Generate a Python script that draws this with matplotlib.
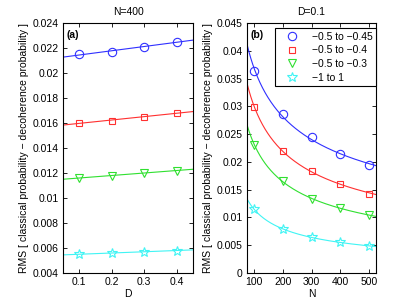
import numpy as np
import matplotlib
matplotlib.use("Agg")
import matplotlib.pyplot as plt

plt.rcParams['font.family'] = ['Liberation Sans', 'DejaVu Sans']
plt.rcParams['font.size'] = 7.5

D = [0.1, 0.2, 0.3, 0.4]
N = [100, 200, 300, 400, 500]
labels = ['\u22120.5 to \u22120.45', '\u22120.5 to \u22120.4', '\u22120.5 to \u22120.3', '\u22121 to 1']
rms_vs_D = [
    [0.0215, 0.0217, 0.0221, 0.0225],
    [0.0160, 0.0162, 0.0165, 0.0168],
    [0.0116, 0.0118, 0.0120, 0.0122],
    [0.0055, 0.0056, 0.0057, 0.0058],
]
rms_vs_N = [
    [0.0363, 0.0286, 0.0244, 0.0214, 0.0194],
    [0.0298, 0.0220, 0.0184, 0.0160, 0.0143],
    [0.0231, 0.0165, 0.0134, 0.0117, 0.0104],
    [0.0115, 0.0079, 0.0064, 0.0055, 0.0049],
]
colors = ['#3030ff', '#ff3030', '#30e030', '#40f4f4']
markers = ['o', 's', 'v', '*']
msizes = [6, 5, 6, 7]

fig = plt.figure(figsize=(4.15, 3.08), dpi=100)
ax1 = fig.add_axes([63/415, 1-273/308, 130/415, 250/308])
ax2 = fig.add_axes([247/415, 1-273/308, 129/415, 250/308])

ylab = 'RMS [ classical probability \u2212 decoherence probability ]'

xd = np.linspace(0.05, 0.45, 100)
for y, c, m, ms in zip(rms_vs_D, colors, markers, msizes):
    p = np.polyfit(D, y, 1)
    ax1.plot(xd, np.polyval(p, xd), color=c, lw=0.8)
    ax1.plot(D, y, linestyle='none', marker=m, ms=ms, mfc='none', mec=c, mew=0.8)
ax1.set_xlim(0.05, 0.45)
ax1.set_ylim(0.004, 0.024)
ax1.set_xticks(D)
ax1.set_yticks(np.arange(0.004, 0.0241, 0.002))
ax1.set_yticklabels(['0.004', '0.006', '0.008', '0.01', '0.012', '0.014', '0.016', '0.018', '0.02', '0.022', '0.024'])
ax1.set_xlabel('D', labelpad=1)
ax1.set_ylabel(ylab, labelpad=3)
ax1.set_title('N=400', fontsize=7.5, pad=6)
ax1.text(0.03, 0.97, '(a)', transform=ax1.transAxes, fontweight='bold', va='top', ha='left')

xn = np.linspace(75, 525, 200)
handles = []
for y, c, m, ms, lab in zip(rms_vs_N, colors, markers, msizes, labels):
    p = np.polyfit(np.log(N), np.log(y), 1)
    ax2.plot(xn, np.exp(np.polyval(p, np.log(xn))), color=c, lw=0.8)
    h, = ax2.plot(N, y, linestyle='none', marker=m, ms=ms, mfc='none', mec=c, mew=0.8, label=lab)
    handles.append(h)
ax2.set_xlim(75, 525)
ax2.set_ylim(0, 0.045)
ax2.set_xticks(N)
ax2.set_yticks(np.arange(0, 0.0451, 0.005))
ax2.set_yticklabels(['0', '0.005', '0.01', '0.015', '0.02', '0.025', '0.03', '0.035', '0.04', '0.045'])
ax2.set_xlabel('N', labelpad=1)
ax2.set_ylabel(ylab, labelpad=3)
ax2.set_title('D=0.1', fontsize=7.5, pad=6)
ax2.text(0.03, 0.97, '(b)', transform=ax2.transAxes, fontweight='bold', va='top', ha='left')
leg = ax2.legend(handles=handles, loc='upper right', bbox_to_anchor=(1.0, 1 - 5/250),
                 fancybox=False, edgecolor='black',
                 framealpha=1, borderpad=0.35, handlelength=2.6, handletextpad=0.6,
                 labelspacing=0.35, borderaxespad=0.0, fontsize=7.5)
leg.get_frame().set_linewidth(0.8)

for ax in (ax1, ax2):
    ax.tick_params(direction='in', top=True, right=True, length=3, width=0.6, pad=3)
    for s in ax.spines.values():
        s.set_linewidth(0.8)

fig.savefig('out.png', dpi=100)
